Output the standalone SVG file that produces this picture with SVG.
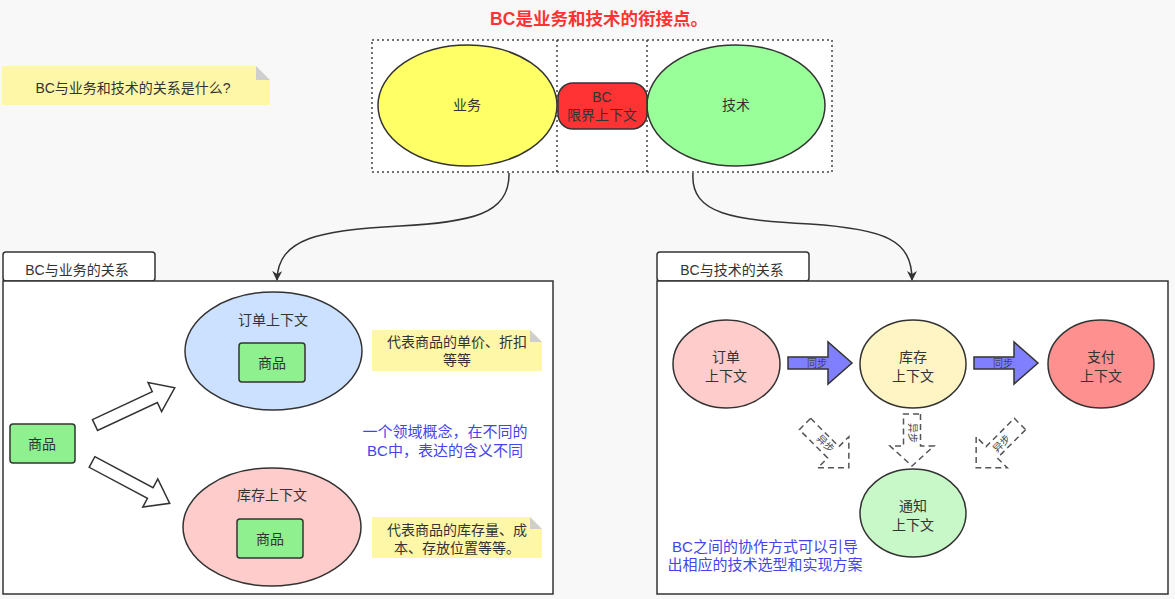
<svg xmlns="http://www.w3.org/2000/svg" width="1175" height="599" viewBox="0 0 1175 599">
<style>
text{font-family:"Liberation Sans","Noto Sans CJK SC",sans-serif;fill:#333;text-anchor:middle}
.n{stroke:#333;stroke-width:1.5}
.t13{font-size:13px}
.t14{font-size:14px}
.blue{fill:#4444ee;font-size:15px}
.note{fill:#fff7a8}
.fold{fill:#cfcfcf}
.hol{fill:#fff;stroke:#333;stroke-width:1.5}
.bl{fill:#8080ff;stroke:#333;stroke-width:1.5}
.dash{fill:#fff;stroke:#555;stroke-width:1.5;stroke-dasharray:6 4}
.sm{font-size:10px;fill:#444}
.con{fill:none;stroke:#333;stroke-width:1.5}
</style>
<defs>
<marker id="ah" markerWidth="10" markerHeight="10" refX="9" refY="5" orient="auto" markerUnits="userSpaceOnUse">
<path d="M0,0 L10,5 L0,10 L3,5 Z" fill="#333"/>
</marker>
<path id="hollow" d="M0,-6 L66,-6 L66,-16 L88,0 L66,16 L66,6 L0,6 Z"/>
<path id="blueArrow" d="M0,-6 L40,-6 L40,-21 L64,0 L40,21 L40,6 L0,6 Z"/>
<path id="dashV" d="M0,-8.5 L32,-8.5 L32,-22 L52,0 L32,22 L32,8.5 L0,8.5 Z"/>
<path id="dashD" d="M0,-8 L40,-8 L40,-22 L62,0 L40,22 L40,8 L0,8 Z"/>
</defs>
<rect x="0" y="0" width="1175" height="599" fill="#f8f8f8"/>

<g id="title">
<text x="599" y="25" style="font-size:17.5px;font-weight:bold;fill:#ff3333">BC是业务和技术的衔接点。</text>
</g>

<g id="question-note">
<path class="note" d="M2,66 H256 L270,80 V105 H2 Z"/>
<path class="fold" d="M256,66 L270,80 H256 Z"/>
<text class="t14" x="133" y="93">BC与业务和技术的关系是什么?</text>
</g>

<g id="top-box">
<rect x="372" y="40" width="460" height="132" fill="#fff" stroke="#444" stroke-width="1.5" stroke-dasharray="2 3"/>
<line x1="557" y1="40" x2="557" y2="172" stroke="#444" stroke-width="1.5" stroke-dasharray="2 3"/>
<line x1="647" y1="40" x2="647" y2="172" stroke="#444" stroke-width="1.5" stroke-dasharray="2 3"/>
</g>
<g id="business">
<ellipse class="n" cx="467.5" cy="105.5" rx="89.5" ry="60.5" fill="#ffff66"/>
<text class="t14" x="467" y="110">业务</text>
</g>
<g id="technology">
<ellipse class="n" cx="736" cy="105.5" rx="89" ry="60.5" fill="#99ff99"/>
<text class="t14" x="736" y="110">技术</text>
</g>
<g id="bc">
<rect class="n" x="558" y="83" width="89" height="46" rx="15" fill="#ff3333"/>
<text class="t14" x="602" y="102">BC</text>
<text class="t14" x="602" y="120">限界上下文</text>
</g>

<g id="connectors">
<path class="con" d="M509,173 C510,215 470,222 400,226 C320,230 278,238 277,280" marker-end="url(#ah)"/>
<path class="con" d="M693,173 C690,215 735,220 810,224 C885,229 912,240 912,280" marker-end="url(#ah)"/>
</g>

<g id="panel-business">
<rect class="n" x="3" y="252" width="152" height="29" rx="3" fill="#fff"/>
<text class="t14" x="77" y="275">BC与业务的关系</text>
<rect class="n" x="3" y="281" width="550" height="313" fill="#fff"/>
</g>
<g id="goods-left">
<rect class="n" x="10" y="424" width="65" height="39" rx="3" fill="#8ef08e"/>
<text class="t14" x="42" y="449">商品</text>
</g>
<g id="hollow-arrows">
<use href="#hollow" class="hol" transform="translate(95,425) rotate(-25)"/>
<use href="#hollow" class="hol" transform="translate(92,462) rotate(28)"/>
</g>
<g id="order-context">
<ellipse class="n" cx="273.5" cy="351" rx="88.5" ry="59" fill="#cce0ff"/>
<text class="t14" x="273" y="325">订单上下文</text>
<rect class="n" x="239" y="343" width="66" height="39" rx="3" fill="#8ef08e"/>
<text class="t14" x="272" y="368">商品</text>
</g>
<g id="stock-context">
<ellipse class="n" cx="272" cy="527" rx="89" ry="59" fill="#ffcccc"/>
<text class="t14" x="272" y="500">库存上下文</text>
<rect class="n" x="237" y="519" width="66" height="39" rx="3" fill="#8ef08e"/>
<text class="t14" x="270" y="544">商品</text>
</g>
<g id="note-price">
<path class="note" d="M372,330 H530 L542,342 V371 H372 Z"/>
<path class="fold" d="M530,330 L542,342 H530 Z"/>
<text class="t14" x="457" y="347">代表商品的单价、折扣</text>
<text class="t14" x="457" y="365">等等</text>
</g>
<g id="note-stock">
<path class="note" d="M372,517 H530 L542,529 V558 H372 Z"/>
<path class="fold" d="M530,517 L542,529 H530 Z"/>
<text class="t14" x="457" y="535">代表商品的库存量、成</text>
<text class="t14" x="457" y="553">本、存放位置等等。</text>
</g>
<g id="note-blue-left">
<text class="blue" x="445" y="437">一个领域概念，在不同的</text>
<text class="blue" x="445" y="456">BC中，表达的含义不同</text>
</g>

<g id="panel-tech">
<rect class="n" x="657" y="252" width="152" height="29" rx="3" fill="#fff"/>
<text class="t14" x="732" y="275">BC与技术的关系</text>
<rect class="n" x="657" y="281" width="511" height="313" fill="#fff"/>
</g>
<g id="ctx-order">
<ellipse class="n" cx="726.5" cy="364" rx="53.5" ry="44" fill="#ffcccc"/>
<text class="t14" x="726" y="362">订单</text>
<text class="t14" x="726" y="381">上下文</text>
</g>
<g id="ctx-stock">
<ellipse class="n" cx="913" cy="364" rx="53" ry="44" fill="#fff5c4"/>
<text class="t14" x="913" y="362">库存</text>
<text class="t14" x="913" y="381">上下文</text>
</g>
<g id="ctx-pay">
<ellipse class="n" cx="1101" cy="364" rx="53" ry="44" fill="#ff9090"/>
<text class="t14" x="1101" y="362">支付</text>
<text class="t14" x="1101" y="381">上下文</text>
</g>
<g id="ctx-notify">
<ellipse class="n" cx="913" cy="513" rx="53" ry="44" fill="#c8f8c8"/>
<text class="t14" x="913" y="511">通知</text>
<text class="t14" x="913" y="530">上下文</text>
</g>
<g id="sync-arrows">
<use href="#blueArrow" class="bl" transform="translate(788,363)"/>
<text class="sm" x="817" y="367">同步</text>
<use href="#blueArrow" class="bl" transform="translate(974,363)"/>
<text class="sm" x="1003" y="367">同步</text>
</g>
<g id="async-arrows">
<use href="#dashD" class="dash" transform="translate(805,424) rotate(45)"/>
<text class="sm" transform="translate(823,446) rotate(45)">异步</text>
<use href="#dashV" class="dash" transform="translate(912,414) rotate(90)"/>
<text class="sm" transform="translate(909,433) rotate(90)">异步</text>
<use href="#dashD" class="dash" transform="translate(1020,424) rotate(135)"/>
<text class="sm" transform="translate(1004,446) rotate(-45)">异步</text>
</g>
<g id="note-blue-right">
<text class="blue" x="765" y="552">BC之间的协作方式可以引导</text>
<text class="blue" x="765" y="570">出相应的技术选型和实现方案</text>
</g>
</svg>
